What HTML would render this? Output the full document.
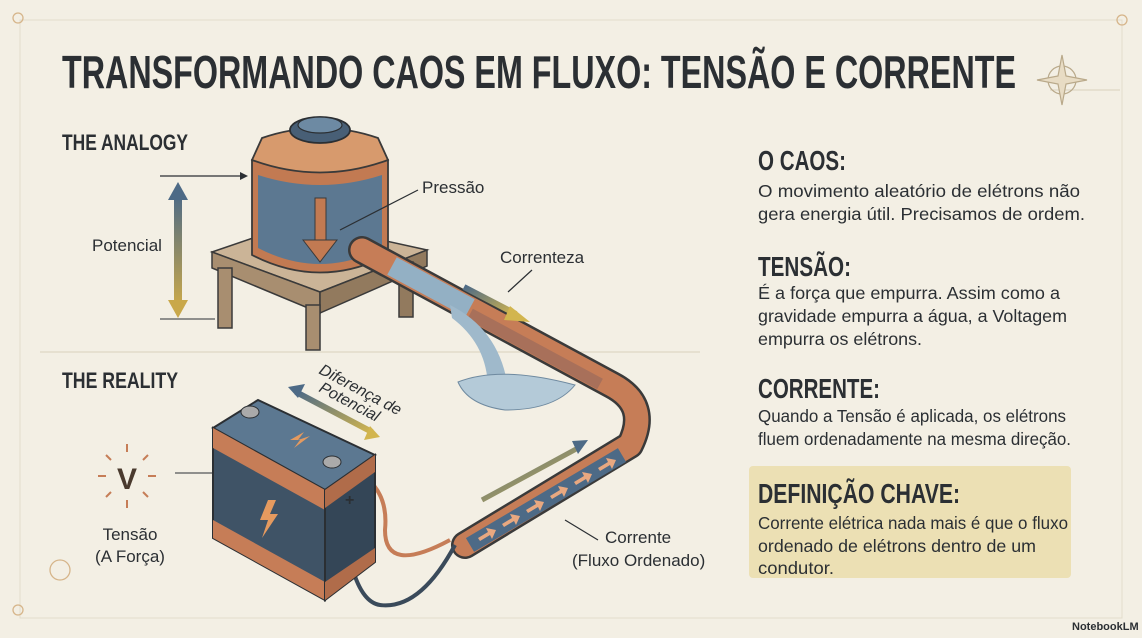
<!DOCTYPE html>
<html><head><meta charset="utf-8"><style>
html,body{margin:0;padding:0;background:#f3efe4;}
svg{display:block}
text{font-family:"Liberation Sans Narrow","Liberation Sans",sans-serif;}
</style></head><body>
<svg width="1142" height="638" viewBox="0 0 1142 638" xmlns="http://www.w3.org/2000/svg">
<defs>
<linearGradient id="pot" x1="0" y1="0" x2="0" y2="1"><stop offset="0" stop-color="#4d6a86"/><stop offset="1" stop-color="#c9a84a"/></linearGradient>
<linearGradient id="ar" x1="0" y1="0" x2="1" y2="1"><stop offset="0" stop-color="#4d6a86"/><stop offset="1" stop-color="#d2b54e"/></linearGradient>
</defs>
<rect width="1142" height="638" fill="#f3efe4"/>
<rect x="20" y="20" width="1102" height="598" fill="none" stroke="#e3dccb" stroke-width="1"/>
<line x1="40" y1="352" x2="700" y2="352" stroke="#d9d0bd"/>
<line x1="1120" y1="90" x2="1050" y2="90" stroke="#d9d0bd"/>
<text x="62" y="88" font-size="46" font-weight="bold" fill="#2b2f33" textLength="954" lengthAdjust="spacingAndGlyphs">TRANSFORMANDO CAOS EM FLUXO: TENSÃO E CORRENTE</text>
<text x="62" y="150" font-size="22" font-weight="bold" fill="#2b2f33" textLength="126" lengthAdjust="spacingAndGlyphs">THE ANALOGY</text>
<text x="62" y="388" font-size="22" font-weight="bold" fill="#2b2f33" textLength="116" lengthAdjust="spacingAndGlyphs">THE REALITY</text>
<g stroke="#b9a98a" fill="none" stroke-width="1.2"><circle cx="1062" cy="80" r="14"/><path d="M1062 55 L1066 76 L1087 80 L1066 84 L1062 105 L1058 84 L1037 80 L1058 76Z" fill="#e8dcc4"/></g>
<rect x="174" y="195" width="8" height="110" fill="url(#pot)"/>
<path d="M168 200 L178 182 L188 200Z" fill="#4d6a86"/><path d="M168 300 L178 318 L188 300Z" fill="#c9a84a"/>
<text x="92" y="251" font-size="17" fill="#2b2f33" font-family="Liberation Sans">Potencial</text>
<line x1="160" y1="176" x2="240" y2="176" stroke="#2b2f33" stroke-width="1.3"/><path d="M240 172 L248 176 L240 180Z" fill="#2b2f33"/>
<line x1="160" y1="319" x2="215" y2="319" stroke="#2b2f33" stroke-width="1"/>
<!-- table -->
<polygon points="212,252 300,222 427,250 320,292" fill="#cbb497" stroke="#3a3a3a" stroke-width="1.5"/>
<polygon points="212,252 320,292 320,313 212,268" fill="#a88e70" stroke="#3a3a3a" stroke-width="1.5"/>
<polygon points="320,292 427,250 427,266 320,313" fill="#927a5e" stroke="#3a3a3a" stroke-width="1.5"/>
<rect x="218" y="268" width="14" height="60" fill="#a88e70" stroke="#3a3a3a" stroke-width="1.5"/>
<rect x="306" y="305" width="14" height="45" fill="#a88e70" stroke="#3a3a3a" stroke-width="1.5"/>
<rect x="399" y="262" width="14" height="55" fill="#927a5e" stroke="#3a3a3a" stroke-width="1.5"/>
<!-- tank -->
<path d="M252 160 L252 255 Q320 290 388 255 L388 160Z" fill="#c27a52" stroke="#3a3a3a" stroke-width="1.8"/>
<path d="M258 175 L258 248 Q320 280 382 248 L382 175 Q320 195 258 175Z" fill="#5c7891"/>
<path d="M252 160 L262 138 Q320 118 378 138 L388 160 Q320 185 252 160Z" fill="#d79a6d" stroke="#3a3a3a" stroke-width="1.8"/>
<ellipse cx="320" cy="130" rx="30" ry="13" fill="#485f76" stroke="#2b2f33" stroke-width="1.8"/>
<ellipse cx="320" cy="125" rx="22" ry="8" fill="#6d8aa3" stroke="#2b2f33" stroke-width="1.2"/>
<rect x="315" y="198" width="11" height="45" fill="#c27a52" stroke="#3a3a3a"/>
<path d="M303 240 L320 262 L337 240Z" fill="#c27a52" stroke="#3a3a3a"/>
<line x1="340" y1="230" x2="418" y2="190" stroke="#2b2f33" stroke-width="1.2"/>
<text x="422" y="193" font-size="17" fill="#2b2f33" font-family="Liberation Sans">Pressão</text>
<!-- pipe -->
<path d="M362 250 L612 385 Q650 405 630 445 L465 545" stroke="#3a3a3a" stroke-width="28" fill="none" stroke-linecap="round" stroke-linejoin="round"/>
<path d="M362 250 L612 385 Q650 405 630 445 L465 545" stroke="#c67d57" stroke-width="23" fill="none" stroke-linecap="round" stroke-linejoin="round"/>
<path d="M392 266 L470 308" stroke="#93b0c4" stroke-width="20" fill="none"/>
<path d="M470 314 L600 384" stroke="#a8705a" stroke-width="12" fill="none"/>
<!-- water splash -->
<path d="M450 305 Q500 330 508 388 L488 390 Q488 345 452 318Z" fill="#9fb9cb"/>
<path d="M458 382 Q500 365 575 385 Q555 410 505 410 Q468 405 458 382Z" fill="#b4cad8" stroke="#6f8aa0" stroke-width="1"/>
<text x="500" y="263" font-size="17" fill="#2b2f33" font-family="Liberation Sans">Correnteza</text>
<line x1="532" y1="270" x2="508" y2="292" stroke="#2b2f33" stroke-width="1.2"/>
<path d="M464 287 L516 314" stroke="url(#ar)" stroke-width="6"/><path d="M510 306 L530 322 L504 320Z" fill="#d2b54e"/>
<path d="M622 455 L470 545" stroke="#4d6a86" stroke-width="16" fill="none"/>
<g fill="#e8a880">
<path d="M478 538 l10 -6 l-2 -4 l10 2 l-4 9 l-2 -4 l-10 6z"/><path d="M502 524 l10 -6 l-2 -4 l10 2 l-4 9 l-2 -4 l-10 6z"/><path d="M526 510 l10 -6 l-2 -4 l10 2 l-4 9 l-2 -4 l-10 6z"/><path d="M550 496 l10 -6 l-2 -4 l10 2 l-4 9 l-2 -4 l-10 6z"/><path d="M574 482 l10 -6 l-2 -4 l10 2 l-4 9 l-2 -4 l-10 6z"/><path d="M598 468 l10 -6 l-2 -4 l10 2 l-4 9 l-2 -4 l-10 6z"/>
</g>
<path d="M482 500 L578 448" stroke="url(#ar)" stroke-width="5"/><path d="M572 441 L588 440 L578 454Z" fill="#4d6a86"/>
<line x1="565" y1="520" x2="598" y2="540" stroke="#2b2f33" stroke-width="1.2"/>
<text x="605" y="543" font-size="17" fill="#2b2f33" font-family="Liberation Sans">Corrente</text>
<text x="572" y="566" font-size="17" fill="#2b2f33" font-family="Liberation Sans">(Fluxo Ordenado)</text>
<!-- wires -->
<path d="M340 465 Q390 480 385 530 Q385 575 450 540" stroke="#c67d57" stroke-width="4" fill="none"/>
<path d="M340 470 Q345 600 380 605 Q420 610 455 545" stroke="#3a4a5a" stroke-width="4" fill="none"/>
<!-- battery -->
<polygon points="213,428 258,400 375,455 325,490" fill="#5c7891" stroke="#2b2f33" stroke-width="2"/>
<polygon points="213,428 325,490 325,600 213,538" fill="#3f5366" stroke="#2b2f33" stroke-width="2"/>
<polygon points="213,428 325,490 325,510 213,448" fill="#c67d57"/>
<polygon points="213,520 325,582 325,600 213,538" fill="#c67d57"/>
<polygon points="325,490 375,455 375,562 325,600" fill="#344657" stroke="#2b2f33" stroke-width="2"/>
<polygon points="325,490 375,455 375,472 325,508" fill="#b06c4a"/>
<polygon points="325,582 375,548 375,562 325,600" fill="#b06c4a"/>
<ellipse cx="250" cy="412" rx="9" ry="6" fill="#aaa" stroke="#2b2f33"/>
<ellipse cx="332" cy="462" rx="9" ry="6" fill="#aaa" stroke="#2b2f33"/>
<path d="M290 440 l14 -8 l-6 8 l12 -4 l-16 12 l6 -8z" fill="#e59a5f"/>
<path d="M268 500 l-8 20 h8 l-6 18 l16 -24 h-8 l6 -14z" fill="#e59a5f"/>
<text x="345" y="505" font-size="16" font-weight="bold" fill="#2b2f33">+</text>
<path d="M296 392 L372 432" stroke="url(#ar)" stroke-width="6"/><path d="M288 387 L305 384 L298 398Z" fill="#4d6a86"/><path d="M380 437 L364 440 L370 426Z" fill="#d2b54e"/>
<text transform="translate(318,373) rotate(28)" font-size="16" fill="#2b2f33" font-family="Liberation Sans" font-style="italic">Diferença de</text>
<text transform="translate(318,391) rotate(28)" font-size="16" fill="#2b2f33" font-family="Liberation Sans" font-style="italic">Potencial</text>
<g stroke="#c67d57" stroke-width="2"><line x1="127" y1="444" x2="127" y2="452"/><line x1="127" y1="500" x2="127" y2="508"/><line x1="98" y1="476" x2="106" y2="476"/><line x1="148" y1="476" x2="156" y2="476"/><line x1="106" y1="455" x2="111" y2="460"/><line x1="148" y1="455" x2="143" y2="460"/><line x1="106" y1="497" x2="111" y2="492"/><line x1="148" y1="497" x2="143" y2="492"/></g>
<text x="127" y="489" font-size="30" font-weight="bold" fill="#4a3a2e" text-anchor="middle">V</text>
<text x="130" y="540" font-size="17" fill="#2b2f33" text-anchor="middle" font-family="Liberation Sans">Tensão</text>
<text x="130" y="562" font-size="17" fill="#2b2f33" text-anchor="middle" font-family="Liberation Sans">(A Força)</text>
<line x1="175" y1="473" x2="212" y2="473" stroke="#2b2f33"/>
<g fill="#2b2f33">
<text x="758" y="170" font-size="28" font-weight="bold" textLength="88" lengthAdjust="spacingAndGlyphs">O CAOS:</text>
<text x="758" y="197" font-size="17.5" textLength="322" lengthAdjust="spacingAndGlyphs">O movimento aleatório de elétrons não</text>
<text x="758" y="220" font-size="17.5" textLength="327" lengthAdjust="spacingAndGlyphs">gera energia útil. Precisamos de ordem.</text>
<text x="758" y="276" font-size="28" font-weight="bold" textLength="93" lengthAdjust="spacingAndGlyphs">TENSÃO:</text>
<text x="758" y="299" font-size="17.5" textLength="302" lengthAdjust="spacingAndGlyphs">É a força que empurra. Assim como a</text>
<text x="758" y="322" font-size="17.5" textLength="309" lengthAdjust="spacingAndGlyphs">gravidade empurra a água, a Voltagem</text>
<text x="758" y="345" font-size="17.5" textLength="164" lengthAdjust="spacingAndGlyphs">empurra os elétrons.</text>
<text x="758" y="398" font-size="28" font-weight="bold" textLength="122" lengthAdjust="spacingAndGlyphs">CORRENTE:</text>
<text x="758" y="422" font-size="17.5" textLength="308" lengthAdjust="spacingAndGlyphs">Quando a Tensão é aplicada, os elétrons</text>
<text x="758" y="445" font-size="17.5" textLength="313" lengthAdjust="spacingAndGlyphs">fluem ordenadamente na mesma direção.</text>
</g>
<rect x="749" y="466" width="322" height="112" rx="4" fill="#ece0b4"/>
<g fill="#2b2f33">
<text x="758" y="503" font-size="28" font-weight="bold" textLength="202" lengthAdjust="spacingAndGlyphs">DEFINIÇÃO CHAVE:</text>
<text x="758" y="529" font-size="17.5" textLength="310" lengthAdjust="spacingAndGlyphs">Corrente elétrica nada mais é que o fluxo</text>
<text x="758" y="552" font-size="17.5" textLength="278" lengthAdjust="spacingAndGlyphs">ordenado de elétrons dentro de um</text>
<text x="758" y="574" font-size="17.5" textLength="76" lengthAdjust="spacingAndGlyphs">condutor.</text>
</g>
<g stroke="#d6b58a" fill="none" stroke-width="1.3"><circle cx="18" cy="18" r="5"/><circle cx="1122" cy="20" r="5"/><circle cx="18" cy="610" r="5"/><circle cx="60" cy="570" r="10"/></g>
<text x="1072" y="630" font-size="11" font-weight="bold" fill="#2b2f33" font-family="Liberation Sans">NotebookLM</text>
</svg>
</body></html>
